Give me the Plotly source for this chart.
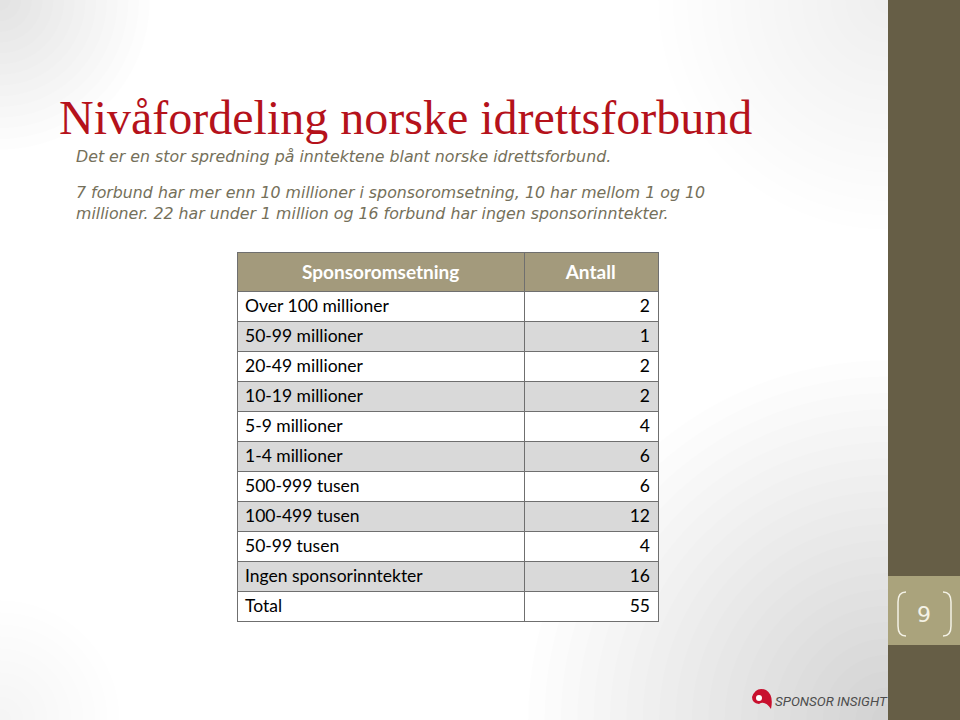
import plotly.graph_objects as go

W, H = 960, 720

nivaa = ['Over 100 millioner', '50-99 millioner', '20-49 millioner', '10-19 millioner',
         '5-9 millioner', '1-4 millioner', '500-999 tusen', '100-499 tusen',
         '50-99 tusen', 'Ingen sponsorinntekter', 'Total']
antall = [2, 1, 2, 2, 4, 6, 6, 12, 4, 16, 55]
kolonner = ['Sponsoromsetning', 'Antall']

tittel = 'Nivåfordeling norske idrettsforbund'
tekst = ['Det er en stor spredning på inntektene blant norske idrettsforbund.',
         '7 forbund har mer enn 10 millioner i sponsoromsetning, 10 har mellom 1 og 10',
         'millioner. 22 har under 1 million og 16 forbund har ingen sponsorinntekter.']
sidetall = '9'


def px(x):
    return x / W


def py(y):
    return 1 - y / H


# annenhver rad grå
rad_farger = ['#ffffff' if i % 2 == 0 else '#d9d9d9' for i in range(len(nivaa))]

fig = go.Figure()
fig.add_trace(go.Table(
    domain=dict(x=[px(237), px(659)], y=[py(630), py(252)]),
    columnwidth=[288, 134],
    header=dict(
        values=[f'<b>{k}</b>' for k in kolonner],
        fill_color='#a39a7c',
        line=dict(color='#6f6f6f', width=1),
        font=dict(family='Lato', size=19, color='white'),
        align='center',
        height=35,
    ),
    cells=dict(
        values=[nivaa, antall],
        fill_color=[rad_farger, rad_farger],
        line=dict(color='#6f6f6f', width=1),
        font=dict(family='Lato', size=17.5, color='black'),
        align=['left', 'right'],
        height=30,
    ),
))

shapes = []
# svak grå skygge i hjørnene
for sx, sy, rmax, n, a in [(888, 720, 360, 22, 0.0065), (888, 0, 230, 16, 0.0045),
                           (0, 0, 150, 14, 0.007), (0, 720, 120, 10, 0.004)]:
    for i in range(n):
        r = rmax * (n - i) / n
        shapes.append(dict(type='circle', xref='paper', yref='paper',
                           x0=px(sx - r), x1=px(sx + r), y0=py(sy + r), y1=py(sy - r),
                           fillcolor=f'rgba(0,0,0,{a})', line=dict(width=0), layer='below'))

# høyre stolpe og sidetallsfelt
shapes.append(dict(type='rect', xref='paper', yref='paper', x0=px(888), x1=1, y0=0, y1=1,
                   fillcolor='#665e46', line=dict(width=0)))
shapes.append(dict(type='rect', xref='paper', yref='paper', x0=px(888), x1=1,
                   y0=py(645), y1=py(576), fillcolor='#aaa37c', line=dict(width=0)))


def klamme(xa, xb):
    return (f'M {px(xa)},{py(592)} Q {px(xb)},{py(592)} {px(xb)},{py(602)} '
            f'L {px(xb)},{py(626)} Q {px(xb)},{py(636)} {px(xa)},{py(636)}')


shapes.append(dict(type='path', xref='paper', yref='paper', path=klamme(906, 898),
                   line=dict(color='#f4f2e6', width=1.5)))
shapes.append(dict(type='path', xref='paper', yref='paper', path=klamme(943, 951),
                   line=dict(color='#f4f2e6', width=1.5)))

# logo-ikon
ikon = (f'M {px(752)},{py(697)} Q {px(756)},{py(686)} {px(766)},{py(690)} '
        f'Q {px(774)},{py(695)} {px(771)},{py(709)} Q {px(765)},{py(700)} {px(759)},{py(704)} '
        f'Q {px(752)},{py(703)} {px(752)},{py(697)} Z')
shapes.append(dict(type='path', xref='paper', yref='paper', path=ikon,
                   fillcolor='#c8102e', line=dict(width=0)))
shapes.append(dict(type='circle', xref='paper', yref='paper',
                   x0=px(756), x1=px(762), y0=py(701), y1=py(695),
                   fillcolor='white', line=dict(width=0)))

annotations = [
    dict(text=tittel, x=px(57), y=py(118), xanchor='left', yanchor='middle',
         font=dict(family='Liberation Serif', size=48, color='#b5121b')),
    dict(text=sidetall, x=px(924), y=py(614), xanchor='center', yanchor='middle',
         font=dict(family='DejaVu Sans', size=22, color='#f4f2e6')),
    dict(text='SPONSOR INSIGHT', x=px(773), y=py(701), xanchor='left', yanchor='middle',
         font=dict(family='Roboto', size=13.4, color='#4d4d4d', style='italic')),
]
for tekst_linje, yy in zip(tekst, [156, 193, 213]):
    annotations.append(dict(text=tekst_linje, x=px(74), y=py(yy), xanchor='left',
                            yanchor='middle',
                            font=dict(family='DejaVu Sans', size=15.8, color='#75705a',
                                      style='italic')))
for a in annotations:
    a.update(xref='paper', yref='paper', showarrow=False)

fig.update_layout(
    width=W, height=H,
    margin=dict(l=0, r=0, t=0, b=0),
    paper_bgcolor='white',
    plot_bgcolor='white',
    shapes=shapes,
    annotations=annotations,
    showlegend=False,
)

fig.write_html('out.html', config={'displayModeBar': False},
               post_script="document.body.style.margin='0';")
